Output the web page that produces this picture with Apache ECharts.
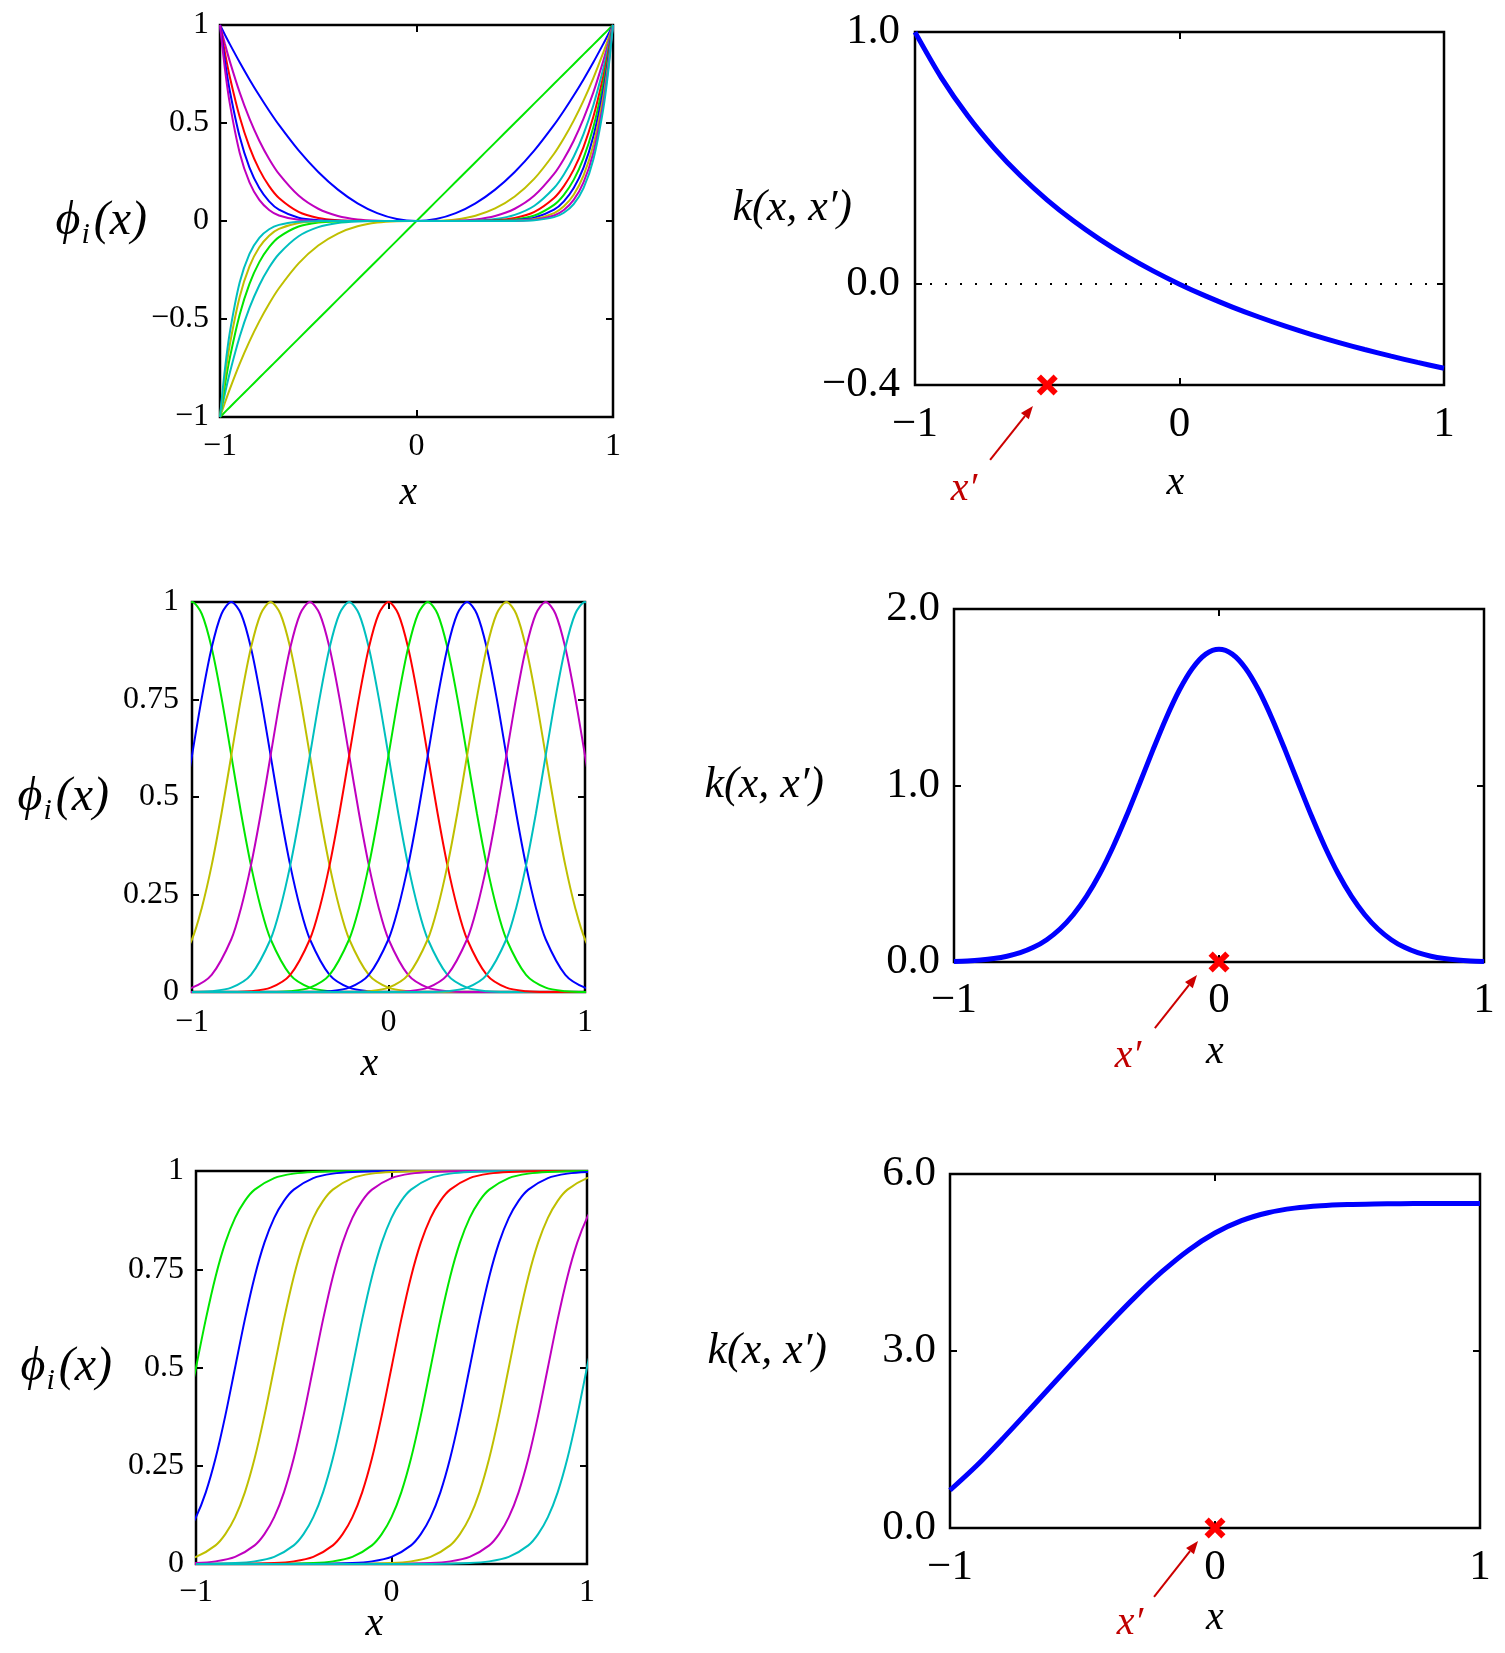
<!DOCTYPE html>
<html>
<head>
<meta charset="utf-8">
<title>Basis functions and their kernels</title>
<script src="https://cdn.jsdelivr.net/npm/echarts@6.0.0/dist/echarts.min.js"></script>
<style>
  html, body { margin: 0; padding: 0; background: #fff; }
  #main { width: 1505px; height: 1653px; }
</style>
</head>
<body>
<div id="main"></div>
<script>
// ---------- data ----------

// top left: polynomial basis x^1 .. x^11, sampled on a common x grid
var polyX = [-1, -0.975, -0.95, -0.9, -0.85, -0.8, -0.75, -0.7, -0.6, -0.5, -0.4, -0.3, -0.2, -0.1, 0, 0.1, 0.2, 0.3, 0.4, 0.5, 0.6, 0.7, 0.75, 0.8, 0.85, 0.9, 0.95, 0.975, 1];
var poly1 = [-1, -0.975, -0.95, -0.9, -0.85, -0.8, -0.75, -0.7, -0.6, -0.5, -0.4, -0.3, -0.2, -0.1, 0, 0.1, 0.2, 0.3, 0.4, 0.5, 0.6, 0.7, 0.75, 0.8, 0.85, 0.9, 0.95, 0.975, 1];
var poly2 = [1, 0.9506, 0.9025, 0.81, 0.7225, 0.64, 0.5625, 0.49, 0.36, 0.25, 0.16, 0.09, 0.04, 0.01, 0, 0.01, 0.04, 0.09, 0.16, 0.25, 0.36, 0.49, 0.5625, 0.64, 0.7225, 0.81, 0.9025, 0.9506, 1];
var poly3 = [-1, -0.9269, -0.8574, -0.729, -0.6141, -0.512, -0.4219, -0.343, -0.216, -0.125, -0.064, -0.027, -0.008, -0.001, 0, 0.001, 0.008, 0.027, 0.064, 0.125, 0.216, 0.343, 0.4219, 0.512, 0.6141, 0.729, 0.8574, 0.9269, 1];
var poly4 = [1, 0.9037, 0.8145, 0.6561, 0.522, 0.4096, 0.3164, 0.2401, 0.1296, 0.0625, 0.0256, 0.0081, 0.0016, 0.0001, 0, 0.0001, 0.0016, 0.0081, 0.0256, 0.0625, 0.1296, 0.2401, 0.3164, 0.4096, 0.522, 0.6561, 0.8145, 0.9037, 1];
var poly5 = [-1, -0.8811, -0.7738, -0.5905, -0.4437, -0.3277, -0.2373, -0.1681, -0.0778, -0.0313, -0.0102, -0.0024, -0.0003, 0, 0, 0, 0.0003, 0.0024, 0.0102, 0.0313, 0.0778, 0.1681, 0.2373, 0.3277, 0.4437, 0.5905, 0.7738, 0.8811, 1];
var poly6 = [1, 0.8591, 0.7351, 0.5314, 0.3771, 0.2621, 0.178, 0.1176, 0.0467, 0.0156, 0.0041, 0.0007, 0.0001, 0, 0, 0, 0.0001, 0.0007, 0.0041, 0.0156, 0.0467, 0.1176, 0.178, 0.2621, 0.3771, 0.5314, 0.7351, 0.8591, 1];
var poly7 = [-1, -0.8376, -0.6983, -0.4783, -0.3206, -0.2097, -0.1335, -0.0824, -0.028, -0.0078, -0.0016, -0.0002, 0, 0, 0, 0, 0, 0.0002, 0.0016, 0.0078, 0.028, 0.0824, 0.1335, 0.2097, 0.3206, 0.4783, 0.6983, 0.8376, 1];
var poly8 = [1, 0.8167, 0.6634, 0.4305, 0.2725, 0.1678, 0.1001, 0.0576, 0.0168, 0.0039, 0.0007, 0.0001, 0, 0, 0, 0, 0, 0.0001, 0.0007, 0.0039, 0.0168, 0.0576, 0.1001, 0.1678, 0.2725, 0.4305, 0.6634, 0.8167, 1];
var poly9 = [-1, -0.7962, -0.6302, -0.3874, -0.2316, -0.1342, -0.0751, -0.0404, -0.0101, -0.002, -0.0003, 0, 0, 0, 0, 0, 0, 0, 0.0003, 0.002, 0.0101, 0.0404, 0.0751, 0.1342, 0.2316, 0.3874, 0.6302, 0.7962, 1];
var poly10 = [1, 0.7763, 0.5987, 0.3487, 0.1969, 0.1074, 0.0563, 0.0282, 0.006, 0.001, 0.0001, 0, 0, 0, 0, 0, 0, 0, 0.0001, 0.001, 0.006, 0.0282, 0.0563, 0.1074, 0.1969, 0.3487, 0.5987, 0.7763, 1];
var poly11 = [-1, -0.7569, -0.5688, -0.3138, -0.1673, -0.0859, -0.0422, -0.0198, -0.0036, -0.0005, 0, 0, 0, 0, 0, 0, 0, 0, 0, 0.0005, 0.0036, 0.0198, 0.0422, 0.0859, 0.1673, 0.3138, 0.5688, 0.7569, 1];

// top right: kernel of the polynomial basis, x' = -0.5
var kPolyX = [-1, -0.9, -0.8, -0.7, -0.6, -0.5, -0.4, -0.3, -0.2, -0.1, 0, 0.1, 0.2, 0.3, 0.4, 0.5, 0.6, 0.7, 0.8, 0.9, 1];
var kPolyY = [0.9995, 0.8182, 0.6666, 0.5385, 0.4286, 0.3333, 0.25, 0.1765, 0.1111, 0.0526, 0, -0.0476, -0.0909, -0.1304, -0.1667, -0.2, -0.2308, -0.2593, -0.2857, -0.3104, -0.3335];

// middle + bottom left: the 11 bumps / steps all have the same shape, one per centre
var centres = [-1, -0.8, -0.6, -0.4, -0.2, 0, 0.2, 0.4, 0.6, 0.8, 1];
var gaussOffsets = [-2, -0.8, -0.7, -0.6, -0.5, -0.4, -0.35, -0.3, -0.25, -0.2, -0.15, -0.1, -0.05, 0, 0.05, 0.1, 0.15, 0.2, 0.25, 0.3, 0.35, 0.4, 0.5, 0.6, 0.7, 0.8, 2];
var gaussValues = [0, 0.0003, 0.0022, 0.0111, 0.0439, 0.1353, 0.2163, 0.3247, 0.4578, 0.6065, 0.7548, 0.8825, 0.9692, 1, 0.9692, 0.8825, 0.7548, 0.6065, 0.4578, 0.3247, 0.2163, 0.1353, 0.0439, 0.0111, 0.0022, 0.0003, 0];
var sigOffsets = [-2, -0.8, -0.6, -0.5, -0.4, -0.3, -0.25, -0.2, -0.15, -0.1, -0.05, 0, 0.05, 0.1, 0.15, 0.2, 0.25, 0.3, 0.4, 0.5, 0.6, 0.8, 2];
var sigValues = [0, 0.0003, 0.0025, 0.0067, 0.018, 0.0474, 0.0759, 0.1192, 0.1824, 0.2689, 0.3775, 0.5, 0.6225, 0.7311, 0.8176, 0.8808, 0.9241, 0.9526, 0.982, 0.9933, 0.9975, 0.9997, 1];

// middle right: gaussian kernel, x' = 0
var kGaussX = [-1, -0.95, -0.9, -0.85, -0.8, -0.75, -0.7, -0.65, -0.6, -0.55, -0.5, -0.45, -0.4, -0.35, -0.3, -0.25, -0.2, -0.15, -0.1, -0.05, 0, 0.05, 0.1, 0.15, 0.2, 0.25, 0.3, 0.35, 0.4, 0.45, 0.5, 0.55, 0.6, 0.65, 0.7, 0.75, 0.8, 0.85, 0.9, 0.95, 1];
var kGaussY = [0.0034, 0.0063, 0.0112, 0.0194, 0.0325, 0.0527, 0.0829, 0.1264, 0.1868, 0.2676, 0.3714, 0.4999, 0.6519, 0.824, 1.0097, 1.1989, 1.38, 1.5395, 1.6646, 1.7445, 1.772, 1.7445, 1.6646, 1.5395, 1.38, 1.1989, 1.0097, 0.824, 0.6519, 0.4999, 0.3714, 0.2676, 0.1868, 0.1264, 0.0829, 0.0527, 0.0325, 0.0194, 0.0112, 0.0063, 0.0034];

// bottom right: sigmoid kernel, x' = 0
var kSigX = [-1, -0.9, -0.8, -0.7, -0.6, -0.5, -0.4, -0.3, -0.2, -0.1, 0, 0.1, 0.2, 0.3, 0.4, 0.5, 0.6, 0.7, 0.8, 0.9, 1];
var kSigY = [0.6398, 1.0546, 1.5195, 2.0045, 2.4954, 2.9841, 3.4631, 3.9216, 4.3435, 4.709, 4.999, 5.209, 5.3435, 5.4214, 5.4627, 5.4831, 5.4926, 5.4968, 5.4987, 5.4994, 5.4998];

// where x' sits in each kernel plot
var xPrimePoints = [[-0.5, -0.4], [0, 0], [0, 0]];

// ---------- styling ----------
var basisColors = ['#00e600', '#0000ff', '#bfbf00', '#bf00bf', '#00bfbf', '#ff0000'];
var serif = '"Liberation Serif", "DejaVu Serif", serif';

function withMinus(s) {
  return String(s).replace('-', '\u2212');
}

var chart = echarts.init(document.getElementById('main'));

// one box per plot, positions in pixels
var panels = [
  { left: 220, top: 25, width: 393, height: 392 },
  { left: 915, top: 32, width: 529, height: 353 },
  { left: 192, top: 602, width: 393, height: 390 },
  { left: 954, top: 609, width: 530, height: 353 },
  { left: 196, top: 1171, width: 391, height: 393 },
  { left: 950, top: 1174, width: 530, height: 354 }
];

// axis set up for each box (left column small font, right column big font)
// xShift nudges the "x" title left, as in the original
var axisCfg = [
  { ymin: -1, ymax: 1, yInterval: 0.5, font: 32, fix: null, xMargin: 14, yMargin: 11, xNameGap: 56, yNameGap: 73, phi: true, xShift: 16 },
  { ymin: -0.4, ymax: 1, custom: [-0.4, 0, 1], font: 43, fix: 1, xMargin: 18, yMargin: 15, xNameGap: 78, yNameGap: 63, xShift: 8 },
  { ymin: 0, ymax: 1, yInterval: 0.25, font: 32, fix: null, xMargin: 15, yMargin: 13, xNameGap: 52, yNameGap: 83, phi: true, xShift: 38 },
  { ymin: 0, ymax: 2, yInterval: 1, font: 43, fix: 1, xMargin: 17, yMargin: 14, xNameGap: 70, yNameGap: 130, xShift: 8 },
  { ymin: 0, ymax: 1, yInterval: 0.25, font: 32, fix: null, xMargin: 13, yMargin: 12, xNameGap: 40, yNameGap: 84, phi: true, xShift: 34 },
  { ymin: 0, ymax: 6, yInterval: 3, font: 43, fix: 1, xMargin: 18, yMargin: 14, xNameGap: 70, yNameGap: 123, xShift: 0 }
];

var grids = [], xAxes = [], yAxes = [];
var tickStyle = { show: true, inside: true, length: 7, lineStyle: { color: '#000', width: 2 } };
var noLine = { show: false, onZero: false };

panels.forEach(function (p, g) {
  var c = axisCfg[g];
  grids.push({
    left: p.left, top: p.top, width: p.width, height: p.height,
    show: true, borderColor: '#000', borderWidth: 2.5, backgroundColor: 'transparent',
    containLabel: false, outerBoundsMode: 'none'
  });

  var yFmt = function (v) {
    return withMinus(c.fix ? v.toFixed(c.fix) : v);
  };
  var xFmt = function (v) {
    return withMinus(v);
  };
  var yTick = echarts.util.clone(tickStyle);
  var yLabel = { color: '#000', fontFamily: serif, fontSize: c.font, margin: c.yMargin, formatter: yFmt };
  if (c.custom) {
    yTick.customValues = c.custom;
    yLabel.customValues = c.custom;
  }

  // y axis name: phi_i(x) on the left column, k(x,x') on the right
  var yName, yNameStyle;
  if (c.phi) {
    yName = '{p|\u03d5}{s|i}{p|(x)}';
    yNameStyle = {
      rich: {
        p: { fontFamily: serif, fontStyle: 'italic', fontSize: 48, color: '#000', lineHeight: 50, verticalAlign: 'middle' },
        s: { fontFamily: serif, fontStyle: 'italic', fontSize: 30, color: '#000', lineHeight: 58, verticalAlign: 'bottom', padding: [0, 4, 0, 1] }
      }
    };
  } else {
    yName = 'k(x, x\u2032)';
    yNameStyle = { fontFamily: serif, fontStyle: 'italic', fontSize: 44, color: '#000' };
  }

  xAxes.push({
    type: 'value', gridIndex: g, position: 'bottom', min: -1, max: 1, interval: 1,
    axisLine: noLine, axisTick: tickStyle, splitLine: { show: false },
    axisLabel: { color: '#000', fontFamily: serif, fontSize: c.font, margin: c.xMargin, formatter: xFmt },
    name: 'x', nameLocation: 'middle', nameGap: c.xNameGap, nameMoveOverlap: false,
    nameTextStyle: { fontFamily: serif, fontStyle: 'italic', fontSize: 40, color: '#000', padding: [0, c.xShift, 0, 0] }
  });
  xAxes.push({
    type: 'value', gridIndex: g, position: 'top', min: -1, max: 1, interval: 1,
    axisLine: noLine, axisTick: tickStyle, axisLabel: { show: false }, splitLine: { show: false }
  });
  yAxes.push({
    type: 'value', gridIndex: g, position: 'left', min: c.ymin, max: c.ymax, interval: c.yInterval,
    axisLine: noLine, axisTick: yTick, splitLine: { show: false }, axisLabel: yLabel,
    name: yName, nameLocation: 'middle', nameRotate: 0, nameGap: c.yNameGap, nameMoveOverlap: false,
    nameTextStyle: yNameStyle
  });
  yAxes.push({
    type: 'value', gridIndex: g, position: 'right', min: c.ymin, max: c.ymax, interval: c.yInterval,
    axisLine: noLine, axisTick: yTick, axisLabel: { show: false }, splitLine: { show: false }
  });
});

var series = [];

function thinLine(g, data, color) {
  return {
    type: 'line', xAxisIndex: 2 * g, yAxisIndex: 2 * g, data: data,
    symbol: 'none', smooth: 0.3, clip: true, silent: true,
    lineStyle: { width: 2, color: color }
  };
}

function kernelLine(g, xs, ys) {
  return {
    type: 'line', xAxisIndex: 2 * g, yAxisIndex: 2 * g,
    data: xs.map(function (x, i) { return [x, ys[i]]; }),
    symbol: 'none', smooth: 0.3, silent: true, z: 3,
    lineStyle: { width: 5, color: '#0000ff' }
  };
}

// polynomial basis
[poly1, poly2, poly3, poly4, poly5, poly6, poly7, poly8, poly9, poly10, poly11].forEach(function (row, i) {
  series.push(thinLine(0, polyX.map(function (x, k) { return [x, row[k]]; }), basisColors[i % 6]));
});

// gaussian and sigmoid bases: same shape placed at every centre
centres.forEach(function (c, i) {
  series.push(thinLine(2, gaussOffsets.map(function (d, k) { return [c + d, gaussValues[k]]; }), basisColors[i % 6]));
  series.push(thinLine(4, sigOffsets.map(function (d, k) { return [c + d, sigValues[k]]; }), basisColors[i % 6]));
});

// kernels
var kp = kernelLine(1, kPolyX, kPolyY);
kp.markLine = {
  silent: true, symbol: 'none', label: { show: false },
  lineStyle: { color: '#000', type: [2, 13], width: 2 },
  data: [{ yAxis: 0 }]
};
series.push(kp);
series.push(kernelLine(3, kGaussX, kGaussY));
series.push(kernelLine(5, kSigX, kSigY));

// red crosses at x'
var crossPath = 'path://M2,0 L5,3 L8,0 L10,2 L7,5 L10,8 L8,10 L5,7 L2,10 L0,8 L3,5 L0,2 Z';
xPrimePoints.forEach(function (pt, i) {
  var g = 2 * i + 1;
  series.push({
    type: 'scatter', xAxisIndex: 2 * g, yAxisIndex: 2 * g, data: [pt],
    symbol: crossPath, symbolSize: 21, clip: false, silent: true, z: 5,
    itemStyle: { color: '#ff0000', opacity: 1 }
  });
});

chart.setOption({
  animation: false,
  backgroundColor: '#fff',
  grid: grids,
  xAxis: xAxes,
  yAxis: yAxes,
  series: series
});

// arrows and x' labels under the kernel plots, placed in data units
var notes = [
  { g: 1, from: [-0.716, -0.697], to: [-0.554, -0.483], text: [-0.815, -0.816] },
  { g: 3, from: [-0.242, -0.374], to: [-0.083, -0.074], text: [-0.343, -0.533] },
  { g: 5, from: [-0.23, -1.169], to: [-0.064, -0.22], text: [-0.321, -1.61] }
];
var graphics = [];
notes.forEach(function (n) {
  var finder = { xAxisIndex: 2 * n.g, yAxisIndex: 2 * n.g };
  var p0 = chart.convertToPixel(finder, n.from);
  var p1 = chart.convertToPixel(finder, n.to);
  var pt = chart.convertToPixel(finder, n.text);
  var dx = p1[0] - p0[0], dy = p1[1] - p0[1];
  var len = Math.sqrt(dx * dx + dy * dy);
  var ux = dx / len, uy = dy / len;
  var head = 13, half = 5;
  var bx = p1[0] - ux * head, by = p1[1] - uy * head;
  graphics.push({
    type: 'line', silent: true,
    shape: { x1: p0[0], y1: p0[1], x2: bx, y2: by },
    style: { stroke: '#cc0000', lineWidth: 2 }
  });
  graphics.push({
    type: 'polygon', silent: true,
    shape: { points: [[p1[0], p1[1]], [bx - uy * half, by + ux * half], [bx + uy * half, by - ux * half]] },
    style: { fill: '#cc0000' }
  });
  graphics.push({
    type: 'text', silent: true, x: pt[0], y: pt[1],
    style: { text: 'x\u2032', font: 'italic 40px ' + serif, fill: '#c00000', align: 'center', verticalAlign: 'middle' }
  });
});
chart.setOption({ graphic: graphics });
</script>
</body>
</html>
